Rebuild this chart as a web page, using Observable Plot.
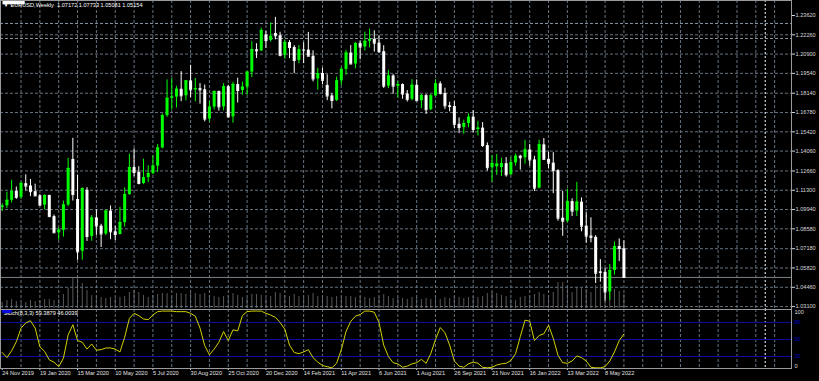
<!DOCTYPE html>
<html><head><meta charset="utf-8">
<script src="https://cdn.jsdelivr.net/npm/d3@7"></script>
<script src="https://cdn.jsdelivr.net/npm/@observablehq/plot@0.6"></script>
<style>
html,body{margin:0;padding:0;background:#000;}
#wrap{position:relative;width:819px;height:381px;background:#000;overflow:hidden;}
#wrap svg{position:absolute;left:0;}
</style></head><body><div id="wrap"></div>
<script>
// ---- data (weekly EURUSD bars, index 0 = week of 24 Nov 2019) ----
const symbol = "EURUSD";
const timeframe = "Weekly";
const open = [
1.1010,1.1020,1.1059,1.1121,1.1080,1.1176,1.1160,1.1120,1.1090,1.1025,
1.1093,1.0944,1.0830,1.0848,1.1026,1.1347,1.1065,1.0700,1.1130,1.0804,
1.0935,1.0877,1.0822,1.0983,1.0837,1.0818,1.0902,1.1099,1.1290,1.1256,
1.1178,1.1219,1.1247,1.1300,1.1428,1.1656,1.1778,1.1787,1.1842,1.1796,
1.1901,1.1838,1.1846,1.1838,1.1632,1.1716,1.1826,1.1718,1.1860,1.1647,
1.1875,1.1833,1.1857,1.1963,1.2121,1.2112,1.2225,1.2186,1.2235,1.2219,
1.2081,1.2171,1.2136,1.2045,1.2119,1.2118,1.2075,1.1915,1.1953,1.1869,
1.1795,1.1763,1.1901,1.1982,1.2097,1.2020,1.2164,1.2140,1.2180,1.2193,
1.2167,1.2107,1.1864,1.1936,1.1864,1.1875,1.1808,1.1771,1.1870,1.1761,
1.1797,1.1698,1.1795,1.1880,1.1813,1.1725,1.1720,1.1595,1.1572,1.1600,
1.1645,1.1558,1.1568,1.1445,1.1289,1.1295,1.1290,1.1317,1.1239,1.1323,
1.1370,1.1359,1.1414,1.1344,1.1145,1.1450,1.1348,1.1321,1.1268,1.0933,
1.0912,1.1050,1.0983,1.1046,1.0877,1.0807,1.0798,1.0555,1.0551,1.0413,
1.0564,1.0733,1.07172];
const high = [
1.1035,1.1116,1.1200,1.1153,1.1188,1.1239,1.1206,1.1173,1.1100,1.1098,
1.1095,1.0955,1.0864,1.1053,1.1355,1.1496,1.1237,1.1147,1.1148,1.0952,
1.0991,1.0890,1.0990,1.1019,1.0875,1.1009,1.1147,1.1384,1.1422,1.1296,
1.1349,1.1303,1.1372,1.1452,1.1668,1.1908,1.1916,1.1863,1.1966,1.1902,
1.2011,1.1917,1.1882,1.1872,1.1755,1.1831,1.1830,1.1881,1.1870,1.1891,
1.1920,1.1893,1.1964,1.2177,1.2163,1.2273,1.2250,1.2310,1.2349,1.2244,
1.2189,1.2185,1.2150,1.2150,1.2170,1.2243,1.2113,1.1990,1.1990,1.1944,
1.1810,1.1928,1.1994,1.2117,1.2150,1.2172,1.2181,1.2245,1.2266,1.2254,
1.2218,1.2149,1.1975,1.1945,1.1895,1.1880,1.1833,1.1909,1.1908,1.1806,
1.1805,1.1807,1.1909,1.1895,1.1849,1.1750,1.1755,1.1640,1.1624,1.1669,
1.1692,1.1616,1.1607,1.1464,1.1374,1.1383,1.1355,1.1360,1.1360,1.1386,
1.1376,1.1482,1.1453,1.1369,1.1483,1.1495,1.1395,1.1395,1.1275,1.1121,
1.1137,1.1070,1.1185,1.1076,1.0970,1.0936,1.0810,1.0641,1.0579,1.0606,
1.0765,1.0787,1.07733];
const low = [
1.0981,1.1002,1.1040,1.1066,1.1065,1.1125,1.1085,1.1086,1.1019,1.0992,
1.0940,1.0827,1.0778,1.0800,1.1015,1.1054,1.0636,1.0637,1.0769,1.0770,
1.0812,1.0727,1.0810,1.0782,1.0775,1.0815,1.0870,1.1095,1.1225,1.1168,
1.1170,1.1185,1.1240,1.1255,1.1422,1.1644,1.1696,1.1710,1.1754,1.1760,
1.1783,1.1753,1.1737,1.1612,1.1612,1.1696,1.1688,1.1690,1.1640,1.1603,
1.1745,1.1800,1.1800,1.1925,1.2059,1.2107,1.2130,1.2174,1.2190,1.2070,
1.2054,1.2058,1.1952,1.2022,1.2023,1.2072,1.1894,1.1836,1.1873,1.1762,
1.1704,1.1755,1.1868,1.1941,1.2017,1.1986,1.2051,1.2112,1.2133,1.2104,
1.2094,1.1848,1.1847,1.1807,1.1781,1.1772,1.1752,1.1760,1.1760,1.1705,
1.1664,1.1692,1.1791,1.1801,1.1700,1.1683,1.1563,1.1529,1.1524,1.1571,
1.1535,1.1513,1.1432,1.1265,1.1186,1.1235,1.1227,1.1222,1.1234,1.1300,
1.1272,1.1314,1.1300,1.1121,1.1140,1.1340,1.1280,1.1106,1.0912,1.0806,
1.0901,1.0945,1.0945,1.0837,1.0757,1.0760,1.0472,1.0481,1.0349,1.0354,
1.0532,1.0627,1.05081];
const close = [
1.1018,1.1059,1.1121,1.1080,1.1176,1.1160,1.1120,1.1090,1.1025,1.1093,
1.0944,1.0830,1.0848,1.1026,1.1284,1.1100,1.0695,1.1141,1.0804,1.0935,
1.0877,1.0822,1.0983,1.0837,1.0818,1.0902,1.1099,1.1290,1.1256,1.1178,
1.1219,1.1247,1.1300,1.1428,1.1656,1.1778,1.1787,1.1842,1.1796,1.1901,
1.1838,1.1846,1.1838,1.1632,1.1716,1.1826,1.1718,1.1860,1.1647,1.1875,
1.1833,1.1857,1.1963,1.2121,1.2112,1.2255,1.2186,1.2215,1.2219,1.2081,
1.2171,1.2136,1.2045,1.2119,1.2118,1.2075,1.1915,1.1953,1.1905,1.1795,
1.1763,1.1901,1.1982,1.2097,1.2020,1.2164,1.2140,1.2180,1.2193,1.2167,
1.2107,1.1864,1.1936,1.1864,1.1875,1.1808,1.1771,1.1870,1.1761,1.1797,
1.1698,1.1795,1.1880,1.1813,1.1725,1.1720,1.1595,1.1572,1.1600,1.1645,
1.1558,1.1568,1.1445,1.1289,1.1318,1.1314,1.1317,1.1239,1.1323,1.1370,
1.1359,1.1414,1.1344,1.1145,1.1450,1.1348,1.1321,1.1268,1.0933,1.0912,
1.1050,1.0983,1.1046,1.0877,1.0807,1.0798,1.0545,1.0551,1.0413,1.0564,
1.0733,1.0720,1.05154];
// tick volume (thousands) at the foot of the price window
const volume = [
6,8,9,7,5,6,8,7,8,9,
9,8,9,14,20,30,32,25,18,13,
12,11,10,11,10,11,12,16,18,16,
13,11,13,14,15,15,11,15,15,14,
15,15,14,15,13,12,11,12,13,15,
13,11,10,14,14,13,10,12,16,15,
13,12,14,12,11,13,15,12,12,12,
11,12,11,12,12,11,12,11,10,11,
11,14,12,10,11,10,9,11,11,9,
10,9,10,9,11,10,12,11,10,11,
12,11,12,15,16,15,13,12,9,8,
11,12,11,14,16,14,13,16,26,26,
22,16,21,20,19,16,23,24,27,22,
19,17,14];
// Stochastic %K (8,3,3) read from the lower window
const stochMain = [
27,18,30,46,70,79,83,70,37,29,
14,10,2,17,58,76,48,45,33,42,
31,32,35,35,33,28,54,87,96,92,
86,85,93,99,100,100,100,99,99,99,
96,91,70,39,23,33,45,64,48,67,
65,92,99,100,100,100,96,93,89,80,
68,40,27,25,28,32,18,10,4,2,
0,8,32,64,82,91,94,100,100,98,
80,40,20,9,7,1,3,7,9,15,
8,25,50,71,62,40,12,3,1,7,
10,8,1,0,1,5,7,8,13,25,
55,84,82,48,57,60,75,52,22,9,
8,12,21,18,12,1,0,0,2,12,
28,48,59.3879];
const stochLabel = "Stoch(8,3,3) 59.3879 46.0039";
const stochLevels = [80, 50, 20];
const priceTicks = [1.23620,1.22260,1.20900,1.19540,1.18140,1.16780,1.15420,1.14060,
                    1.12660,1.11300,1.09940,1.08580,1.07180,1.05820,1.04460,1.03100];
const priceGrid = priceTicks.slice(1);
const hLines = [1.2306, 1.2200];
const dateLabels = ["24 Nov 2019","19 Jan 2020","15 Mar 2020","10 May 2020","5 Jul 2020",
  "30 Aug 2020","25 Oct 2020","20 Dec 2020","14 Feb 2021","11 Apr 2021","6 Jun 2021",
  "1 Aug 2021","26 Sep 2021","21 Nov 2021","16 Jan 2022","13 Mar 2022","8 May 2022"];
const dateLabelIndex = dateLabels.map((_, k) => k * 8);
const gridIndex = d3.range(4, 168, 4);
const markerIndex = [162];

// ---- build ----
const bars = open.map((o, i) => ({i, o, h: high[i], l: low[i], c: close[i], up: close[i] > open[i], v: volume[i]}));
const ups = bars.filter(d => d.up), downs = bars.filter(d => !d.up);
const last = bars[bars.length - 1];
const bid = last.c;
const xDomain = [-0.361, 167.58];
const FONT = "'Liberation Sans', Arial, sans-serif";
const GRID = "#66737f";
const BULL = "#00ff00", BEAR = "#ffffff";

const vol = Plot.plot({
  width: 819, height: 309, marginLeft: 0, marginRight: 28, marginTop: 0, marginBottom: 1,
  style: {background: "transparent"},
  x: {type: "linear", domain: xDomain, axis: null},
  y: {type: "linear", domain: [0, 308], axis: null},
  marks: [Plot.ruleX(bars, {x: "i", y1: 0, y2: "v", stroke: "#585858"})]
});
vol.style.top = "0px";

const main = Plot.plot({
  width: 819, height: 309, marginLeft: 0, marginRight: 28, marginTop: 0, marginBottom: 0,
  style: {background: "transparent", color: "#ddd", fontFamily: FONT, fontSize: "5.6px"},
  x: {type: "linear", domain: xDomain, axis: null},
  y: {type: "linear", domain: [1.02893, 1.246775], axis: null},
  marks: [
    Plot.ruleY(priceGrid, {stroke: GRID, strokeDasharray: "3,2"}),
    Plot.ruleY(hLines, {stroke: "#8a96a2", strokeDasharray: "3,2"}),
    Plot.ruleX(gridIndex, {stroke: GRID, strokeDasharray: "3,2"}),
    Plot.ruleX(markerIndex, {stroke: "#ffffff", strokeDasharray: "2,2"}),
    Plot.ruleY([bid], {stroke: "#7a828a"}),
    Plot.ruleX(ups, {x: "i", y1: "l", y2: "h", stroke: BULL}),
    Plot.ruleX(downs, {x: "i", y1: "l", y2: "h", stroke: BEAR}),
    Plot.ruleX(ups, {x: "i", y1: "o", y2: "c", stroke: BULL, strokeWidth: 3}),
    Plot.ruleX(downs, {x: "i", y1: "o", y2: "c", stroke: BEAR, strokeWidth: 3}),
    Plot.link(bars, {x1: d => d.i - 0.32, x2: d => d.i + 0.32, y1: "c", y2: "c", stroke: d => d.up ? BULL : BEAR}),
    Plot.axisY(priceTicks, {anchor: "right", tickSize: 3, tickPadding: 1, tickFormat: d => d.toFixed(5), color: "#d8d8d8"}),
    Plot.text([bid], {y: d => d, frameAnchor: "right", dx: 3, textAnchor: "start", text: d => d.toFixed(5), fill: "#000", className: "bidlabel"}),
    Plot.text(["\u25BC"], {frameAnchor: "top-left", dx: 3, dy: 3, fill: "#fff", fontSize: 5}),
    Plot.text([`${symbol},${timeframe}  ${last.o.toFixed(5)} ${last.h.toFixed(5)} ${last.l.toFixed(5)} ${last.c.toFixed(5)}`],
      {frameAnchor: "top-left", dx: 10, dy: 3, fill: "#fff", textAnchor: "start"}),
    Plot.frame({stroke: "#9a9a9a"})
  ]
});
main.style.top = "0px";

const stoch = Plot.plot({
  width: 819, height: 72, marginLeft: 0, marginRight: 28, marginTop: 0, marginBottom: 13,
  style: {background: "transparent", color: "#ddd", fontFamily: FONT, fontSize: "5.6px"},
  x: {type: "linear", domain: xDomain, axis: null},
  y: {type: "linear", domain: [-1.2, 102.8], axis: null},
  marks: [
    Plot.ruleX(gridIndex, {stroke: GRID, strokeDasharray: "3,2"}),
    Plot.ruleX(markerIndex, {stroke: "#ffffff", strokeDasharray: "2,2"}),
    Plot.ruleY(stochLevels, {stroke: "#0c0ca4"}),
    Plot.line(stochMain, {x: (d, i) => i, y: d => d, stroke: "#d2d200", strokeWidth: 1}),
    Plot.axisX(dateLabelIndex, {anchor: "bottom", tickSize: 2, tickPadding: 0.5, textAnchor: "start",
      tickFormat: d => dateLabels[d / 8], color: "#e0e0e0"}),
    Plot.text([stochLabel], {frameAnchor: "top-left", dx: 3, dy: 2, fill: "#fff", textAnchor: "start"}),
    Plot.text(["100"], {frameAnchor: "top-right", dx: 3, dy: 1, textAnchor: "start", fill: "#ddd"}),
    Plot.text(["0"], {frameAnchor: "bottom-right", dx: 3, dy: -1, textAnchor: "start", fill: "#ddd"}),
    Plot.text(stochLevels, {y: d => d, frameAnchor: "right", dx: 3, textAnchor: "start", text: d => String(d), fill: "#0000c8", className: "lvl"}),
    Plot.frame({stroke: "#9a9a9a"})
  ]
});
stoch.style.top = "309px";

const wrap = document.getElementById("wrap");
wrap.append(vol, main, stoch);

function boxes(svg, cls, fill, padX, padY) {
  d3.select(svg).selectAll(`g.${cls} text`).each(function() {
    const b = this.getBBox();
    d3.select(this.parentNode).insert("rect", "text")
      .attr("x", b.x - padX).attr("y", b.y - padY)
      .attr("width", b.width + 2 * padX).attr("height", b.height + 2 * padY)
      .attr("fill", fill);
  });
}
boxes(main, "bidlabel", "#ffffff", 1, 1);
boxes(stoch, "lvl", "#0a0ae0", 1.5, 0.5);
</script>
</body></html>
